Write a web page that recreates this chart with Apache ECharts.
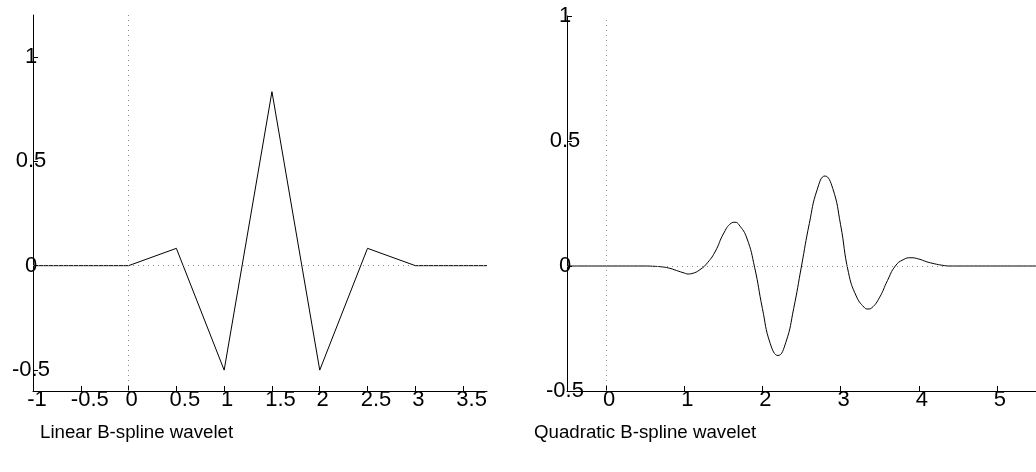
<!DOCTYPE html>
<html>
<head>
<meta charset="utf-8">
<script src="https://cdn.jsdelivr.net/npm/echarts@6/dist/echarts.min.js"></script>
<style>
html,body{margin:0;padding:0;background:#fff;}
#chart{width:1036px;height:472px;}
</style>
</head>
<body>
<div id="chart"></div>
<script>
// ---- data ----
var titles = ['Linear B-spline wavelet', 'Quadratic B-spline wavelet'];

var linearX = [-1, 0, 0.5, 1, 1.5, 2, 2.5, 3, 3.75];
var linearY = [0, 0, 0.083, -0.5, 0.833, -0.5, 0.083, 0, 0];

var quadX = [-0.5, 0, 0.5, 0.6, 0.7, 0.8, 0.9, 1.0, 1.05, 1.1, 1.2, 1.3, 1.4, 1.5, 1.6, 1.65, 1.7, 1.8, 1.9,
             2.0, 2.1, 2.2, 2.3, 2.4, 2.5, 2.6, 2.7, 2.8, 2.9, 3.0, 3.1, 3.2, 3.3, 3.35, 3.4, 3.5,
             3.6, 3.7, 3.8, 3.9, 4.0, 4.1, 4.2, 4.3, 4.4, 4.5, 5.0, 5.5];
var quadY = [0, 0, 0, -0.001, -0.003, -0.008, -0.018, -0.028, -0.032, -0.030, -0.015, 0.014, 0.060, 0.128, 0.171, 0.175, 0.165, 0.112, -0.005,
             -0.17, -0.31, -0.358, -0.305, -0.17, 0.0, 0.17, 0.305, 0.36, 0.31, 0.165, -0.025, -0.12, -0.165, -0.172, -0.167, -0.125,
             -0.058, 0.0, 0.025, 0.033, 0.028, 0.017, 0.009, 0.003, 0.0, 0, 0, 0];

var leftXTicks = [-1, -0.5, 0, 0.5, 1, 1.5, 2, 2.5, 3, 3.5];
var leftXLabels = ['-1', '-0.5', '0', '0.5', '1', '1.5', '2', '2.5', '3', '3.5'];
var leftYTicks = [-0.5, 0, 0.5, 1];
var leftYLabels = ['-0.5', '0', '0.5', '1'];
var rightXTicks = [0, 1, 2, 3, 4, 5];
var rightXLabels = ['0', '1', '2', '3', '4', '5'];
var rightYTicks = [-0.5, 0, 0.5, 1];
var rightYLabels = ['-0.5', '0', '0.5', '1'];

// ---- chart ----
var FONT = "'Liberation Sans', Arial, sans-serif";
function pairs(xs, ys) { return xs.map(function (x, i) { return [x, ys[i]]; }); }
function lookup(ticks, labels) {
  return function (v) {
    for (var i = 0; i < ticks.length; i++) if (Math.abs(ticks[i] - v) < 1e-9) return labels[i];
    return '';
  };
}
function xLabelFmt(ticks, labels) {
  var f = lookup(ticks, labels);
  return function (v) { var s = f(v); return '{p' + s.length + '|' + s + '}'; };
}
var richX = {
  p1: { padding: [0, 0, 0, 6], fontSize: 22, fontFamily: FONT, color: '#000' },
  p2: { padding: [0, 0, 0, 8], fontSize: 22, fontFamily: FONT, color: '#000' },
  p3: { padding: [0, 0, 0, 17], fontSize: 22, fontFamily: FONT, color: '#000' },
  p4: { padding: [0, 0, 0, 18], fontSize: 22, fontFamily: FONT, color: '#000' }
};
var axisLineStyle = { color: '#000', width: 1 };
function xAxis(idx, min, max, ticks, labels) {
  return {
    type: 'value', gridIndex: idx, min: min, max: max,
    axisLine: { show: true, onZero: false, lineStyle: axisLineStyle },
    axisTick: { show: true, inside: true, length: 5, customValues: ticks, lineStyle: axisLineStyle },
    axisLabel: { show: true, customValues: ticks, formatter: xLabelFmt(ticks, labels), rich: richX,
                 margin: -2, verticalAlign: 'top', align: 'center', fontSize: 22, fontFamily: FONT, color: '#000' },
    splitLine: { show: false }
  };
}
function yAxis(idx, min, max, ticks, labels) {
  return {
    type: 'value', gridIndex: idx, min: min, max: max,
    axisLine: { show: true, onZero: false, lineStyle: axisLineStyle },
    axisTick: { show: true, inside: true, length: 5, customValues: ticks, lineStyle: axisLineStyle },
    axisLabel: { show: true, customValues: ticks, formatter: lookup(ticks, labels),
                 margin: 2, align: 'center', verticalAlign: 'middle', padding: [0, 0, 7, 0],
                 fontSize: 22, fontFamily: FONT, color: '#000' },
    splitLine: { show: false }
  };
}
var dotted = { color: '#8a8a8a', type: [1, 4], width: 1 };
function zeroLines() {
  return {
    silent: true, symbol: 'none', animation: false,
    label: { show: false },
    lineStyle: dotted,
    data: [{ xAxis: 0 }, { yAxis: 0 }]
  };
}
var titleStyle = { fontSize: 18.7, fontWeight: 'normal', fontFamily: FONT, color: '#000' };

var option = {
  animation: false,
  backgroundColor: '#fff',
  title: [
    { text: titles[0], left: 35, top: 418, textStyle: titleStyle },
    { text: titles[1], left: 529, top: 418, textStyle: titleStyle }
  ],
  grid: [
    { left: 33, top: 15, width: 454, height: 376 },
    { left: 567, top: 16, right: -8, height: 375 }
  ],
  xAxis: [
    xAxis(0, -1, 3.75, leftXTicks, leftXLabels),
    xAxis(1, -0.5, 5.5, rightXTicks, rightXLabels)
  ],
  yAxis: [
    yAxis(0, -0.6, 1.2, leftYTicks, leftYLabels),
    yAxis(1, -0.5, 1, rightYTicks, rightYLabels)
  ],
  series: [
    {
      type: 'line', xAxisIndex: 0, yAxisIndex: 0, data: pairs(linearX, linearY),
      showSymbol: false, symbol: 'none', lineStyle: { color: '#000', width: 1 },
      markLine: zeroLines(), z: 3
    },
    {
      type: 'line', xAxisIndex: 1, yAxisIndex: 1, data: pairs(quadX, quadY),
      showSymbol: false, symbol: 'none', smooth: 0.5, lineStyle: { color: '#000', width: 1 },
      markLine: zeroLines(), z: 3
    }
  ]
};
var chart = echarts.init(document.getElementById('chart'), null, { renderer: 'canvas' });
chart.setOption(option);
</script>
</body>
</html>
